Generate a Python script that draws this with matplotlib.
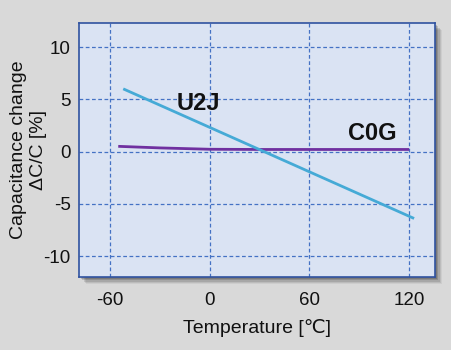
import matplotlib
matplotlib.use('Agg')
from matplotlib import pyplot as plt
from matplotlib.patches import Rectangle

# temperature characteristics
u2j_temp = [-52, 123]
u2j_change = [6.0, -6.4]
c0g_temp = [-55, -30, 0, 30, 60, 90, 120]
c0g_change = [0.5, 0.35, 0.22, 0.2, 0.2, 0.2, 0.2]

x_ticks = [-60, 0, 60, 120]
y_ticks = [-10, -5, 0, 5, 10]

plt.rcParams['font.family'] = ['Liberation Sans', 'DejaVu Sans']
plt.rcParams['axes.unicode_minus'] = False

fig = plt.figure(figsize=(4.51, 3.5), dpi=100)
fig.patch.set_facecolor('#d9d9d9')

ax_pos = [0.1752, 0.2086, 0.7894, 0.7257]

# soft drop shadow behind the plot area
for i, a in enumerate([0.05, 0.08, 0.11, 0.14, 0.16]):
    off = (5 - i) * 1.2
    fig.patches.append(Rectangle((ax_pos[0] + (off + 1) / 451, ax_pos[1] - (off + 1) / 350),
                                 ax_pos[2], ax_pos[3], transform=fig.transFigure,
                                 facecolor='black', alpha=a, edgecolor='none', zorder=0))

ax = fig.add_axes(ax_pos)
ax.set_zorder(2)
ax.set_facecolor('#dae3f3')
for s in ax.spines.values():
    s.set_color('#2f52a0')
    s.set_linewidth(1.2)

ax.set_xlim(-78.6, 135.6)
ax.set_ylim(-12.0, 12.3)
ax.set_xticks(x_ticks)
ax.set_yticks(y_ticks)
ax.grid(True, color='#4472c4', linestyle=(0, (3, 2)), linewidth=0.9)
ax.set_axisbelow(True)
ax.tick_params(length=0, labelsize=13.5, colors='#111111')
ax.tick_params(axis='x', pad=11)
ax.tick_params(axis='y', pad=6)

ax.plot(c0g_temp, c0g_change, color='#7030a0', linewidth=2, solid_capstyle='butt')
ax.plot(u2j_temp, u2j_change, color='#45aad6', linewidth=2, solid_capstyle='butt')

ax.text(-6.5, 4.6, 'U2J', fontsize=17, fontweight='bold', ha='center', va='center', color='#111111')
ax.text(98, 1.7, 'C0G', fontsize=17, fontweight='bold', ha='center', va='center', color='#111111')

ax.set_xlabel('Temperature [℃]', fontsize=14, labelpad=7, color='#111111')
ax.set_ylabel('Capacitance change\nΔC/C [%]', fontsize=14, color='#111111', linespacing=1.2)
ax.yaxis.set_label_coords(-0.09, 0.5)

fig.savefig('out.png', dpi=100, facecolor=fig.get_facecolor())
